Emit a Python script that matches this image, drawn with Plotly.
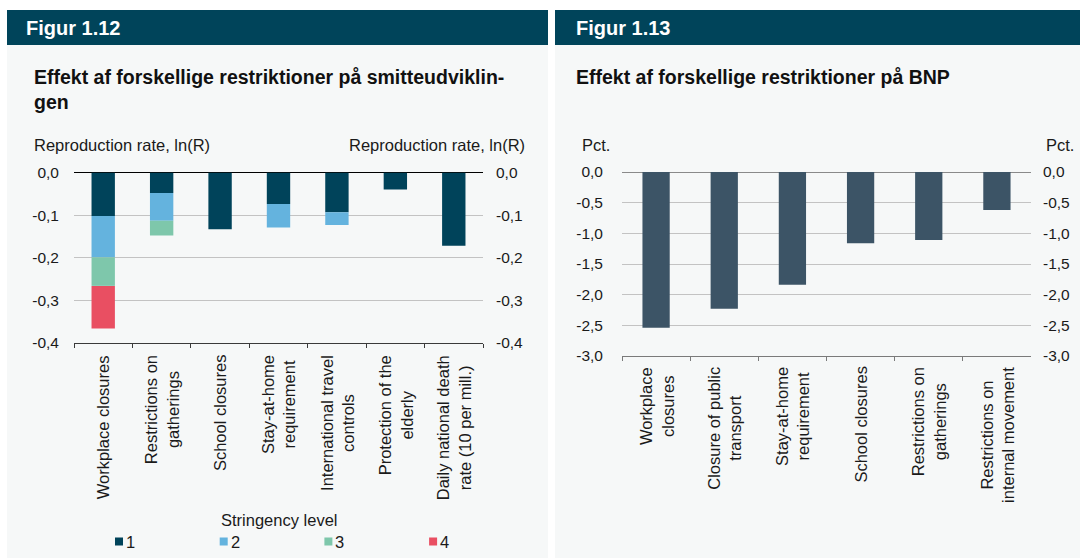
import plotly.graph_objects as go

# Figur 1.12 - effect on reproduction rate, stacked by stringency level
CATS_L = [
    "Workplace closures",
    "Restrictions on<br>gatherings",
    "School closures",
    "Stay-at-home<br>requirement",
    "International travel<br>controls",
    "Protection of the<br>elderly",
    "Daily national death<br>rate (10 per mill.)",
]
LEVELS = ["1", "2", "3", "4"]
LEVEL_1 = [-0.102, -0.048, -0.133, -0.074, -0.093, -0.040, -0.172]
LEVEL_2 = [-0.097, -0.065, None, -0.055, -0.030, None, None]
LEVEL_3 = [-0.067, -0.035, None, None, None, None, None]
LEVEL_4 = [-0.100, None, None, None, None, None, None]
TICKS_L = [0.0, -0.1, -0.2, -0.3, -0.4]

# Figur 1.13 - effect on GDP
CATS_R = [
    "Workplace<br>closures",
    "Closure of public<br>transport",
    "Stay-at-home<br>requirement",
    "School closures",
    "Restrictions on<br>gatherings",
    "Restrictions on<br>internal movement",
]
GDP = [-2.54, -2.23, -1.84, -1.16, -1.11, -0.62]
TICKS_R = [0.0, -0.5, -1.0, -1.5, -2.0, -2.5, -3.0]

LEVEL_COLORS = ["#00435a", "#64b3de", "#7ec7ab", "#e94f62"]
GDP_COLOR = "#3c5466"
HEADER = "#00445a"
PANEL = "#f6f8f8"
FONT = "Liberation Sans"

W, H = 1080, 558


def px(x):
    return x / W


def py(y):
    return 1 - y / H


def fmt(v):
    return f"{v:.1f}".replace(".", ",")


fig = go.Figure()

for name, vals, col in zip(LEVELS, [LEVEL_1, LEVEL_2, LEVEL_3, LEVEL_4], LEVEL_COLORS):
    fig.add_trace(
        go.Bar(
            x=CATS_L, y=vals, name=name, marker=dict(color=col, line=dict(width=0)),
            xaxis="x", yaxis="y", showlegend=False,
        )
    )

fig.add_trace(
    go.Bar(
        x=CATS_R, y=GDP, marker=dict(color=GDP_COLOR, line=dict(width=0)),
        xaxis="x2", yaxis="y2", showlegend=False,
    )
)
# invisible traces so the right-hand tick axes get drawn
fig.add_trace(go.Scatter(x=[CATS_L[0]], y=[0], mode="none", xaxis="x", yaxis="y3",
                         showlegend=False, hoverinfo="skip"))
fig.add_trace(go.Scatter(x=[CATS_R[0]], y=[0], mode="none", xaxis="x2", yaxis="y4",
                         showlegend=False, hoverinfo="skip"))

tick_font = dict(family=FONT, size=15.5, color="#1a1a1a")

ydom_l = [py(343), py(172.5)]
ydom_r = [py(356), py(172)]

fig.update_layout(
    width=W, height=H,
    margin=dict(l=0, r=0, t=0, b=0, pad=0, autoexpand=False),
    paper_bgcolor="white",
    plot_bgcolor="rgba(0,0,0,0)",
    barmode="relative",
    bargap=0.6,
    font=dict(family=FONT, size=15, color="#1a1a1a"),
    xaxis=dict(
        domain=[px(74), px(483)], anchor="y", range=[-0.5, 6.5], automargin=False,
        showline=True, linecolor="#3a3a3a", linewidth=1,
        ticks="outside", tickson="boundaries", ticklen=4, tickcolor="#3a3a3a",
        showticklabels=False, showgrid=False,
    ),
    yaxis=dict(
        domain=ydom_l, anchor="x", range=[-0.4, 0], automargin=False,
        tickvals=TICKS_L, ticktext=[fmt(v) for v in TICKS_L],
        showgrid=True, gridcolor="#c3c3c3", gridwidth=1,
        zeroline=True, zerolinecolor="#000000", zerolinewidth=1,
        showline=False, ticks="", ticklabelstandoff=14, tickfont=tick_font,
    ),
    yaxis3=dict(
        overlaying="y", side="right", anchor="x", range=[-0.4, 0], automargin=False,
        tickvals=TICKS_L, ticktext=[fmt(v) for v in TICKS_L],
        showgrid=False, zeroline=False, showline=False, ticks="",
        ticklabelstandoff=12, tickfont=tick_font,
    ),
    xaxis2=dict(
        domain=[px(622), px(1031)], anchor="y2", range=[-0.5, 5.5], automargin=False,
        showline=True, linecolor="#7a7a7a", linewidth=1,
        ticks="outside", tickson="boundaries", ticklen=4, tickcolor="#7a7a7a",
        showticklabels=False, showgrid=False,
    ),
    yaxis2=dict(
        domain=ydom_r, anchor="x2", range=[-3.0, 0], automargin=False,
        tickvals=TICKS_R, ticktext=[fmt(v) for v in TICKS_R],
        showgrid=True, gridcolor="#c3c3c3", gridwidth=1,
        zeroline=True, zerolinecolor="#8a8a8a", zerolinewidth=1,
        showline=False, ticks="", ticklabelstandoff=18, tickfont=tick_font,
    ),
    yaxis4=dict(
        overlaying="y2", side="right", anchor="x2", range=[-3.0, 0], automargin=False,
        tickvals=TICKS_R, ticktext=[fmt(v) for v in TICKS_R],
        showgrid=False, zeroline=False, showline=False, ticks="",
        ticklabelstandoff=11, tickfont=tick_font,
    ),
)

# panel backgrounds and header bars
shapes = []
for x0, x1 in [(7, 548), (555, 1080)]:
    shapes.append(dict(type="rect", xref="paper", yref="paper", x0=px(x0), x1=px(x1),
                       y0=py(558), y1=py(45), fillcolor=PANEL, line=dict(width=0), layer="below"))
    shapes.append(dict(type="rect", xref="paper", yref="paper", x0=px(x0), x1=px(x1),
                       y0=py(45), y1=py(10), fillcolor=HEADER, line=dict(width=0), layer="below"))

ann = []


def text(t, x, y, size=15, bold=False, color="#1a1a1a", xanchor="left", yanchor="middle", **kw):
    ann.append(dict(
        text=f"<b>{t}</b>" if bold else t, x=px(x), y=py(y), xref="paper", yref="paper",
        xanchor=xanchor, yanchor=yanchor, showarrow=False,
        font=dict(family=FONT, size=size, color=color), **kw,
    ))


text("Figur 1.12", 24, 28, size=20, bold=True, color="white")
text("Figur 1.13", 574, 28, size=20, bold=True, color="white")
text("Effekt af forskellige restriktioner på smitteudviklin-<br>gen", 32, 64, size=19.5,
     bold=True, color="#111111", yanchor="top", align="left")
text("Effekt af forskellige restriktioner på BNP", 574, 64, size=19.5, bold=True,
     color="#111111", yanchor="top", align="left")

text("Reproduction rate, ln(R)", 32, 145, size=16.5)
text("Reproduction rate, ln(R)", 527, 145, size=16.5, xanchor="right")
text("Pct.", 580, 145, size=16.5)
text("Pct.", 1076, 145, size=16.5, xanchor="right")

for c in CATS_L:
    ann.append(dict(text=c, x=c, xref="x", y=py(353), yref="paper", xanchor="center",
                    yanchor="top", textangle=-90, align="center", showarrow=False,
                    font=dict(family=FONT, size=16.5, color="#1a1a1a")))
for c in CATS_R:
    ann.append(dict(text=c, x=c, xref="x2", y=py(365), yref="paper", xanchor="center",
                    yanchor="top", textangle=-90, align="center", showarrow=False,
                    font=dict(family=FONT, size=16.5, color="#1a1a1a")))

# legend
text("Stringency level", 279, 520, size=16.5, xanchor="center")
for i, (name, col) in enumerate(zip(LEVELS, LEVEL_COLORS)):
    x0 = 115 + i * 104.7
    shapes.append(dict(type="rect", xref="paper", yref="paper", x0=px(x0), x1=px(x0 + 8),
                       y0=py(545.5), y1=py(537.5), fillcolor=col, line=dict(width=0)))
    text(name, x0 + 9, 541.5, size=16.5)

fig.update_layout(shapes=shapes, annotations=ann)

fig.write_html(
    "out.html",
    config={"displayModeBar": False},
    post_script=(
        "document.body.style.margin='0';document.body.style.overflow='hidden';"
        "var gd=document.getElementById('{plot_id}');"
        "gd.style.position='absolute';gd.style.left='0px';gd.style.top='0px';"
    ),
)
